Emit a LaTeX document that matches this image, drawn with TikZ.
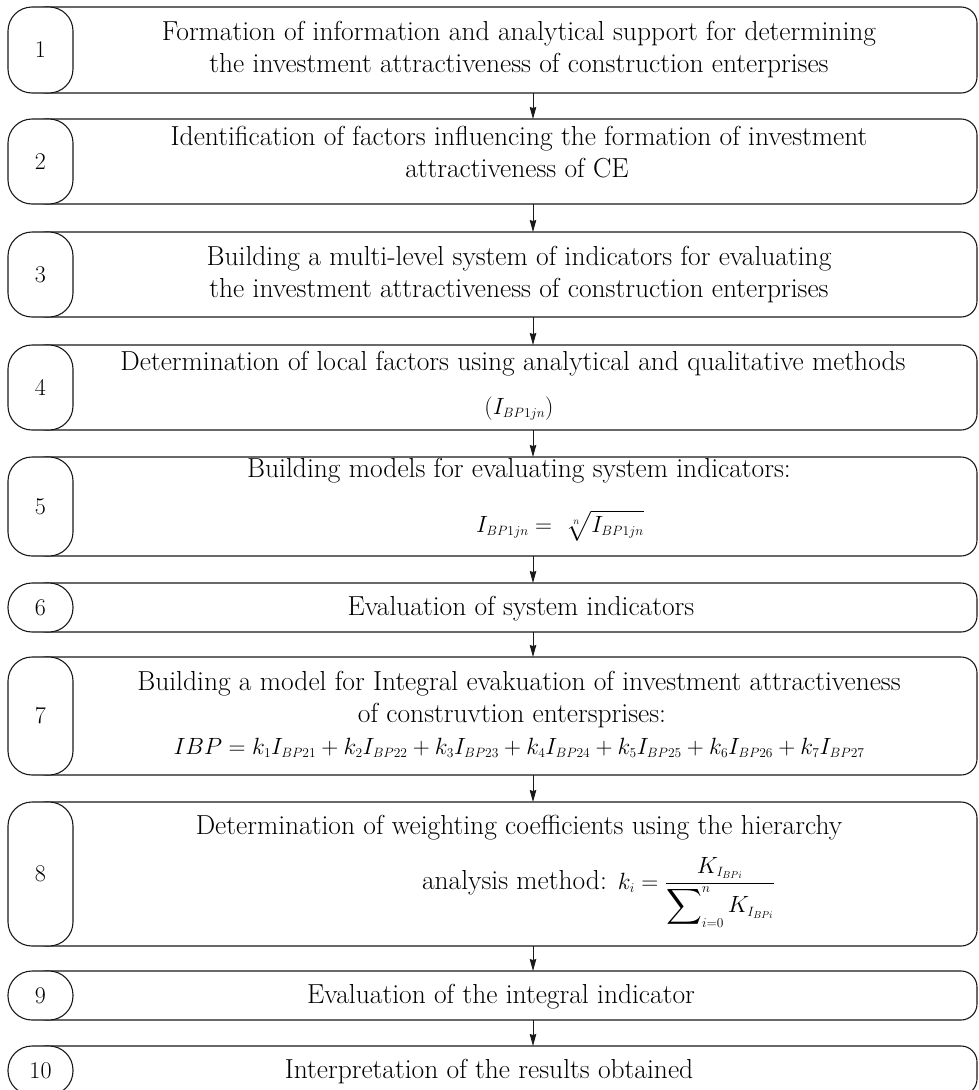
\RequirePackage{fix-cm}
\documentclass[tikz,border=0pt]{standalone}
\usepackage{amsmath}
\usetikzlibrary{arrows.meta}
\DeclareMathSizes{27.5}{23.5}{13.5}{10}
\newcommand\mkstage[3]{%
  \pgfmathsetmacro\bc{(#2+#3)/2}\pgfmathsetmacro\bh{#3-#2}%
  \node[bigbox,minimum height=\bh pt] (b#1) at (503.5,\bc) {};
  \node[numbox,minimum height=\bh pt] (n#1) at (40.5,\bc) {#1};}
\begin{document}
\begin{tikzpicture}[x=1pt,y=-1pt,
  bigbox/.style={draw=black!90, line width=1.1pt, rounded corners=16pt, minimum width=947pt, inner sep=0pt, outer sep=0pt},
  numbox/.style={draw=black!90, fill=white, line width=1.1pt, rounded corners=24pt, minimum width=65pt, inner sep=0pt, outer sep=0pt, font=\fontsize{24}{30}\selectfont},
  txt/.style={anchor=base, inner sep=0pt, outer sep=0pt, font=\fontsize{27.5}{32}\selectfont},
  arr/.style={-{Stealth[length=12pt,width=6.5pt,inset=1pt]}, line width=0.9pt, draw=black!90}]
\useasboundingbox (0,0) rectangle (979,1090);
\mkstage{1}{7}{93}
\mkstage{2}{119}{204}
\mkstage{3}{232}{317}
\mkstage{4}{345}{430}
\mkstage{5}{457}{556}
\mkstage{6}{583}{632}
\mkstage{7}{657}{775}
\mkstage{8}{802}{946}
\mkstage{9}{971}{1020}
\mkstage{10}{1046}{1095}
\foreach \i [evaluate=\i as \j using int(\i+1)] in {1,...,9}
  \draw[arr] ([xshift=29.5pt]b\i.south) -- ([xshift=29.5pt]b\j.north);
% texts
\node[txt] (t1a) at (519,40) {Formation of information and analytical support for determining};
\node[txt] (t1b) at (519,72) {the investment attractiveness of construction enterprises};
\node[txt] (t2a) at (519,145) {Identification of factors influencing the formation of investment};
\node[txt] (t2b) at (517,177) {attractiveness of CE};
\node[txt] (t3a) at (519,265) {Building a multi-level system of indicators for evaluating};
\node[txt] (t3b) at (519,297) {the investment attractiveness of construction enterprises};
\node[txt] (t4a) at (513,370) {Determination of local factors using analytical and qualitative methods};
\node[txt] (t4b) at (519,414) {$(I_{BP1jn})$};
\node[txt] (t5a) at (519,477) {Building models for evaluating system indicators:};
\node[txt] (t5b) at (560,532) {$I_{BP1jn} =\ \sqrt[n]{I_{BP1jn}}$};
\node[txt] (t6a) at (521,615) {Evaluation of system indicators};
\node[txt] (t7a) at (519,690) {Building a model for Integral evakuation of investment attractiveness};
\node[txt] (t7b) at (512,722) {of construvtion entersprises:};
\node[txt] (t7c) at (519,754) {$IBP = k_1I_{BP21} + k_2I_{BP22} + k_3I_{BP23} + k_4I_{BP24} + k_5I_{BP25} + k_6I_{BP26} + k_7I_{BP27}$};
\node[txt] (t8a) at (519,834) {Determination of weighting coefficients using the hierarchy};
\node[txt,anchor=base west] (t8b) at (422,889) {analysis method: $k_i = \dfrac{K_{I_{BPi}}}{\displaystyle\sum\nolimits_{i=0}^{n} K_{I_{BPi}}}$};
\node[txt] (t9a) at (501,1003) {Evaluation of the integral indicator};
\node[txt] (t10a) at (489,1078) {Interpretation of the results obtained};
\end{tikzpicture}
\end{document}
